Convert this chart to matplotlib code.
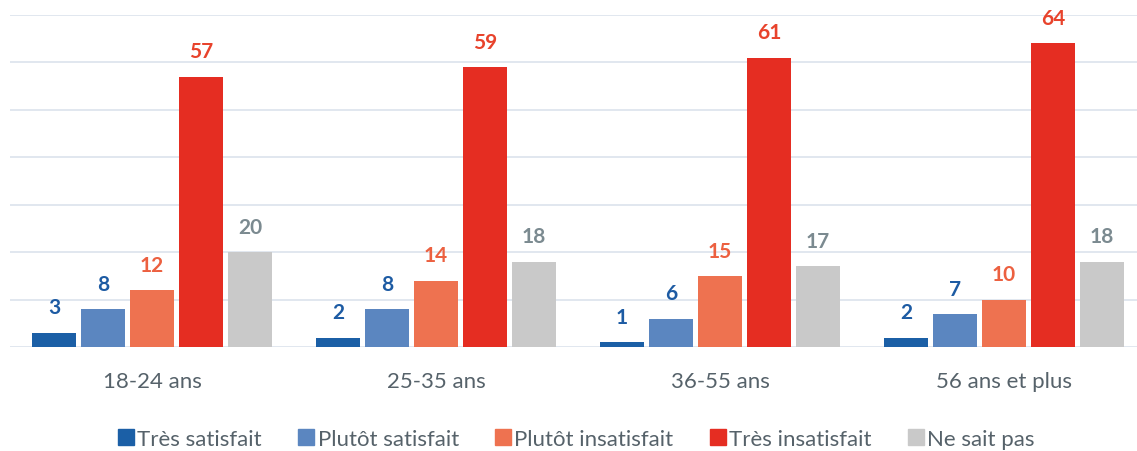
import numpy as np
import matplotlib.pyplot as plt
from matplotlib.lines import Line2D

plt.rcParams['font.family'] = ['Lato', 'DejaVu Sans']

groupes = ["18-24 ans", "25-35 ans", "36-55 ans", "56 ans et plus"]
series = ["Très satisfait", "Plutôt satisfait", "Plutôt insatisfait", "Très insatisfait", "Ne sait pas"]
tres_satisfait = [3, 2, 1, 2]
plutot_satisfait = [8, 8, 6, 7]
plutot_insatisfait = [12, 14, 15, 10]
tres_insatisfait = [57, 59, 61, 64]
ne_sait_pas = [20, 18, 17, 18]

valeurs = [tres_satisfait, plutot_satisfait, plutot_insatisfait, tres_insatisfait, ne_sait_pas]
couleurs = ["#1b5fa6", "#5b86c0", "#ee7250", "#e52d22", "#c9c9c9"]
couleurs_txt = ["#1d5ba3", "#1d5ba3", "#ec6040", "#e8432c", "#7b8a90"]

fig = plt.figure(figsize=(11.37, 4.52), dpi=100)
ax = fig.add_axes([10/1137, 104/452, 1136/1137, 332/452])

x = np.arange(len(groupes))
slot = 49/284
larg = 44/284
for i, (vals, c, ct) in enumerate(zip(valeurs, couleurs, couleurs_txt)):
    pos = x + (i - 2) * slot
    ax.bar(pos, vals, width=larg, color=c, zorder=3, label=series[i])
    for p, v in zip(pos, vals):
        ax.annotate(str(v), (p, v), xytext=(0, 11), textcoords='offset points',
                    ha='center', va='bottom', fontsize=15, fontweight='bold', color=ct)

ax.set_xlim(-0.5, 3.5)
ax.set_ylim(0, 70)
ax.set_yticks(np.arange(0, 71, 10))
ax.yaxis.grid(True, color="#dbe3ec", linewidth=1.2, zorder=0)
ax.tick_params(left=False, labelleft=False, bottom=False)
ax.set_xticks(x)
ax.set_xticklabels(groupes, fontsize=16, color="#56626a")
ax.tick_params(axis='x', pad=14)
for s in ax.spines.values():
    s.set_visible(False)

poignees = [Line2D([0], [0], marker='s', linestyle='none', markersize=11,
                   markerfacecolor=c, markeredgecolor=c) for c in couleurs]
fig.legend(poignees, series, loc='center', bbox_to_anchor=(576/1137, 1 - 440/452),
           ncol=5, frameon=False, fontsize=16, labelcolor="#56626a",
           handletextpad=0.1, columnspacing=1.6, handlelength=0.8)

plt.savefig("out.png", dpi=100)
